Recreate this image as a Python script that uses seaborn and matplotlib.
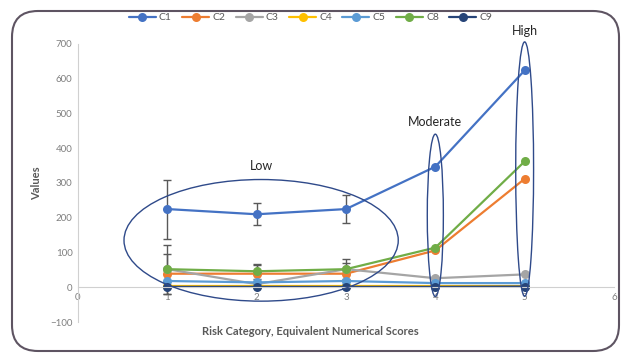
import numpy as np
import pandas as pd
import matplotlib
matplotlib.use('Agg')
import matplotlib.pyplot as plt
import seaborn as sns
from matplotlib.patches import Ellipse, FancyBboxPatch
from matplotlib.transforms import IdentityTransform

# data
scores = [1, 2, 3, 4, 5]
series = ['C1', 'C2', 'C3', 'C4', 'C5', 'C8', 'C9']
c1 = [225, 210, 225, 347, 624]
c2 = [39, 39, 39, 106, 312]
c3 = [52, 9, 52, 26, 37]
c4 = [4, 4, 4, 4, 4]
c5 = [18, 14, 18, 12, 12]
c8 = [52, 46, 52, 114, 362]
c9 = [1, 1, 1, 1, 2]
# error bars (low risk points only)
c1_err = [85, 32, 41]
c2_err = [58, 25, 30]
c8_err = [70, 22, 28]
colors = ['#4472C4', '#ED7D31', '#A5A5A5', '#FFC000', '#5B9BD5', '#70AD47', '#264478']

# ellipses: label, centre x, centre y, width, height
groups = ['Low', 'Moderate', 'High']
ell_x = [2.05, 4.0, 5.0]
ell_y = [135, 207, 340]
ell_w = [3.07, 0.18, 0.2]
ell_h = [350, 467, 732]
lab_y = [349, 475, 738]

df = pd.DataFrame({
    'score': scores * len(series),
    'value': c1 + c2 + c3 + c4 + c5 + c8 + c9,
    'series': [s for s in series for _ in scores],
})

sns.set_style('white')
plt.rcParams['font.family'] = ['Lato', 'DejaVu Sans']

fig = plt.figure(figsize=(6.21, 3.53), dpi=100)
ax = fig.add_axes([0.1256, 0.0878, 0.8631, 0.7876])

sns.lineplot(data=df, x='score', y='value', hue='series', palette=colors,
             marker='o', markersize=6.5, markeredgewidth=0, linewidth=1.6,
             ax=ax, legend=True)

err_x = scores[:3]
for vals, errs in [(c1, c1_err), (c2, c2_err), (c8, c8_err)]:
    ax.errorbar(err_x, vals[:3], yerr=errs, fmt='none', ecolor='#595959',
                elinewidth=1, capsize=3, capthick=1, zorder=1)

for g, x, y, w, h, ly in zip(groups, ell_x, ell_y, ell_w, ell_h, lab_y):
    ax.add_patch(Ellipse((x, y), w, h, fill=False, edgecolor='#2F4A8A',
                         linewidth=1, zorder=5, clip_on=False))
    ax.text(x, ly, g, ha='center', va='center', fontsize=9, color='#262626',
            clip_on=False)

ax.set_xlim(0, 6)
ax.set_ylim(-100, 700)
ax.set_xticks(range(0, 7))
ax.set_yticks(range(-100, 701, 100))
ax.spines['bottom'].set_position(('data', 0))
for s in ['top', 'right']:
    ax.spines[s].set_visible(False)
ax.spines['bottom'].set_color('#D0D0D0')
ax.spines['left'].set_color('#D0D0D0')
ax.tick_params(axis='both', labelsize=7, colors='#7F7F7F', length=0, pad=4)
ax.set_xlabel('')
ax.set_ylabel('Values', fontsize=8, fontweight='bold', color='#595959', labelpad=6)
fig.text(0.5, 0.062, 'Risk Category, Equivalent Numerical Scores', ha='center',
         va='center', fontsize=8, fontweight='bold', color='#595959')

handles, labels = ax.get_legend_handles_labels()
ax.get_legend().remove()
fig.legend(handles, labels, loc='center', bbox_to_anchor=(0.5, 0.95), ncol=7,
           frameon=False, fontsize=7.5, handlelength=2.6, columnspacing=1.0,
           handletextpad=0.3, labelcolor='#595959')

# rounded frame around the chart (pixel coordinates)
fig.patches.append(FancyBboxPatch((12, 2), 607, 340,
                                  boxstyle='round,pad=0,rounding_size=26',
                                  transform=IdentityTransform(), fill=False,
                                  edgecolor='#5E5462', linewidth=1.5))

fig.savefig('out.png', dpi=100)
